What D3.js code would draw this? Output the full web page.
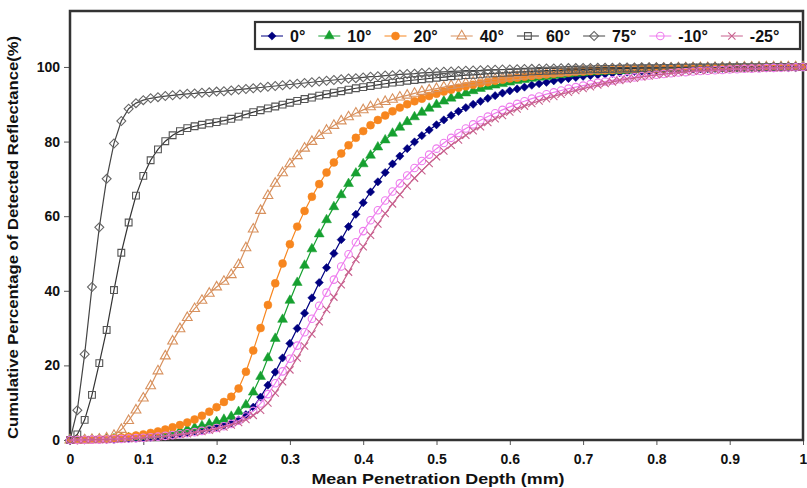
<!DOCTYPE html>
<html>
<head>
<meta charset="utf-8">
<script src="https://cdn.jsdelivr.net/npm/d3@7/dist/d3.min.js"></script>
<style>
body { margin: 0; background: #fff; }
text { font-family: Arial, "Liberation Sans", sans-serif; font-weight: bold; fill: #111; }
</style>
</head>
<body>
<svg width="807" height="488"></svg>
<script>
var svg = d3.select('svg');

// depth grid (mm)
var depth = [0,0.01,0.02,0.03,0.04,0.05,0.06,0.07,0.08,0.09,
  0.1,0.11,0.12,0.13,0.14,0.15,0.16,0.17,0.18,0.19,
  0.2,0.21,0.22,0.23,0.24,0.25,0.26,0.27,0.28,0.29,
  0.3,0.31,0.32,0.33,0.34,0.35,0.36,0.37,0.38,0.39,
  0.4,0.41,0.42,0.43,0.44,0.45,0.46,0.47,0.48,0.49,
  0.5,0.51,0.52,0.53,0.54,0.55,0.56,0.57,0.58,0.59,
  0.6,0.61,0.62,0.63,0.64,0.65,0.66,0.67,0.68,0.69,
  0.7,0.71,0.72,0.73,0.74,0.75,0.76,0.77,0.78,0.79,
  0.8,0.81,0.82,0.83,0.84,0.85,0.86,0.87,0.88,0.89,
  0.9,0.91,0.92,0.93,0.94,0.95,0.96,0.97,0.98,0.99,1];

var names = ['0°', '10°', '20°', '40°', '60°', '75°', '-10°', '-25°'];
var colors = ['#000080', '#16a030', '#f7861f', '#d8915e', '#555555', '#666666', '#ee7cee', '#c8608e'];
var lineColors = ['#000080', '#16a030', '#f7861f', '#d8915e', '#333333', '#444444', '#ee7cee', '#c8608e'];
var shapes = ['diamond', 'triangle', 'circle', 'triangleOpen', 'square', 'diamondOpen', 'circleOpen', 'cross'];

var s0 = [0,0,0.05,0.1,0.1,0.15,0.2,0.3,0.4,0.5,
  0.65,0.8,1.0,1.2,1.45,1.7,2.0,2.35,2.7,3.1,
  3.5,4.0,4.6,5.4,6.8,8.8,11.5,14.7,18.2,22.0,
  25.9,29.9,34.0,38.1,42.2,46.2,50.0,53.7,57.2,60.5,
  63.6,66.5,69.2,71.7,74.0,76.1,78.1,79.9,81.6,83.1,
  84.5,85.8,87.0,88.1,89.1,90.0,90.8,91.6,92.3,93.0,
  93.6,94.1,94.6,95.1,95.5,95.9,96.3,96.6,96.9,97.2,
  97.5,97.7,97.9,98.1,98.3,98.5,98.6,98.8,98.9,99.0,
  99.1,99.2,99.3,99.35,99.4,99.45,99.5,99.55,99.6,99.65,
  99.7,99.73,99.76,99.8,99.83,99.86,99.89,99.92,99.95,99.97,100];

var s10 = [0,0,0.05,0.1,0.15,0.2,0.3,0.4,0.55,0.7,
  0.9,1.1,1.35,1.65,2.0,2.4,2.85,3.3,3.8,4.3,
  4.9,5.5,6.3,7.6,9.4,12.8,17.0,22.0,27.2,32.3,
  37.4,42.2,46.8,51.2,55.2,59.0,62.5,65.7,68.7,71.5,
  74.0,76.3,78.5,80.4,82.2,83.8,85.3,86.6,87.8,88.9,
  89.9,90.8,91.6,92.3,93.0,93.6,94.2,94.7,95.1,95.5,
  95.9,96.3,96.6,96.9,97.2,97.4,97.7,97.9,98.1,98.3,
  98.4,98.6,98.7,98.8,98.9,99.0,99.1,99.2,99.25,99.3,
  99.4,99.45,99.5,99.55,99.6,99.65,99.7,99.72,99.75,99.78,
  99.8,99.83,99.85,99.88,99.9,99.92,99.94,99.95,99.97,99.98,100];

var s20 = [0,0,0.1,0.1,0.2,0.3,0.5,0.7,0.9,1.2,
  1.5,1.9,2.3,2.8,3.4,4.0,4.7,5.5,6.5,7.6,
  8.8,10.2,11.6,13.8,18.3,24.0,30.0,36.2,42.0,47.3,
  52.5,57.2,61.4,65.2,68.6,71.7,74.4,76.8,79.0,81.0,
  82.8,84.4,85.8,87.0,88.1,89.1,90.0,90.8,91.5,92.2,
  92.8,93.4,93.9,94.4,94.8,95.2,95.6,95.9,96.3,96.6,
  96.9,97.1,97.4,97.6,97.8,98.0,98.2,98.4,98.5,98.7,
  98.8,98.9,99.0,99.1,99.2,99.3,99.35,99.4,99.45,99.5,
  99.55,99.6,99.65,99.7,99.72,99.75,99.78,99.8,99.83,99.85,
  99.87,99.89,99.9,99.92,99.94,99.95,99.96,99.97,99.98,99.99,100];

var s40 = [0,0,0,0.1,0.2,0.5,1.2,2.8,5.2,8.0,
  11.2,14.5,18.5,22.5,26.5,29.8,32.8,35.2,37.4,39.3,
  41.0,42.5,44.3,47.0,51.5,56.5,61.5,65.5,68.8,71.6,
  74.0,76.2,78.2,80.0,81.6,83.0,84.3,85.5,86.6,87.6,
  88.5,89.3,90.0,90.7,91.3,91.9,92.4,92.9,93.4,93.8,
  94.2,94.6,95.0,95.3,95.6,95.9,96.2,96.5,96.7,97.0,
  97.2,97.4,97.6,97.8,98.0,98.15,98.3,98.45,98.6,98.75,
  98.9,99.0,99.1,99.2,99.25,99.3,99.35,99.4,99.45,99.5,
  99.55,99.6,99.65,99.7,99.72,99.75,99.78,99.8,99.83,99.85,
  99.87,99.89,99.9,99.92,99.94,99.95,99.96,99.97,99.98,99.99,100];

var s60 = [0,1.5,5.4,12.1,20.6,29.5,40.2,50.2,58.3,65.5,
  70.8,75.0,77.9,80.1,81.7,82.8,83.6,84.1,84.5,84.9,
  85.2,85.6,86.1,86.7,87.3,87.9,88.4,88.9,89.4,89.9,
  90.4,90.9,91.4,91.8,92.3,92.7,93.1,93.5,93.9,94.3,
  94.6,94.9,95.2,95.5,95.8,96.0,96.3,96.5,96.7,96.9,
  97.1,97.3,97.5,97.6,97.8,97.9,98.0,98.2,98.3,98.4,
  98.5,98.6,98.7,98.8,98.9,99.0,99.05,99.1,99.2,99.25,
  99.3,99.35,99.4,99.45,99.5,99.55,99.6,99.6,99.65,99.7,
  99.7,99.75,99.75,99.8,99.8,99.85,99.85,99.88,99.9,99.9,
  99.92,99.93,99.94,99.95,99.96,99.97,99.98,99.98,99.99,100,100];

var s75 = [0,8,23,41,57,70,79.5,85.5,88.8,90.3,
  91.1,91.6,91.9,92.2,92.4,92.6,92.8,92.9,93.1,93.2,
  93.4,93.5,93.7,93.9,94.1,94.3,94.5,94.7,94.9,95.1,
  95.3,95.5,95.7,95.9,96.1,96.3,96.5,96.7,96.9,97.0,
  97.2,97.4,97.5,97.7,97.8,98.0,98.1,98.2,98.4,98.5,
  98.6,98.7,98.8,98.9,99.0,99.05,99.1,99.2,99.25,99.3,
  99.35,99.4,99.45,99.5,99.55,99.6,99.6,99.65,99.7,99.7,
  99.75,99.75,99.8,99.8,99.8,99.85,99.85,99.85,99.9,99.9,
  99.9,99.9,99.9,99.92,99.93,99.94,99.95,99.95,99.96,99.96,
  99.97,99.97,99.98,99.98,99.98,99.99,99.99,99.99,100,100,100];

var sm10 = [0,0,0.05,0.1,0.1,0.15,0.2,0.3,0.4,0.5,
  0.6,0.75,0.9,1.1,1.3,1.55,1.8,2.1,2.45,2.8,
  3.2,3.7,4.3,5.2,6.3,7.8,9.8,12.3,15.2,18.4,
  21.8,25.3,28.9,32.5,36.0,39.5,43.0,46.5,49.8,53.0,
  56.0,58.9,61.6,64.2,66.6,68.8,70.9,72.9,74.8,76.5,
  78.1,79.6,81.0,82.3,83.5,84.6,85.7,86.7,87.6,88.5,
  89.3,90.1,90.8,91.5,92.1,92.7,93.2,93.7,94.2,94.6,
  95.0,95.4,95.8,96.1,96.4,96.7,97.0,97.2,97.5,97.7,
  97.9,98.1,98.3,98.5,98.6,98.8,98.9,99.0,99.1,99.2,
  99.3,99.4,99.5,99.55,99.6,99.7,99.75,99.8,99.85,99.9,100];

var sm25 = [0,0,0.05,0.1,0.1,0.15,0.2,0.3,0.35,0.45,
  0.55,0.7,0.85,1.0,1.2,1.45,1.7,2.0,2.3,2.65,
  3.0,3.5,4.0,4.7,5.5,6.6,8.0,9.9,12.6,15.6,
  18.8,22.0,25.2,28.4,31.7,35.0,38.3,41.6,45.0,48.4,
  51.8,54.9,57.9,60.7,63.3,65.8,68.1,70.2,72.2,74.1,
  75.9,77.5,79.0,80.4,81.7,82.9,84.0,85.1,86.1,87.0,
  87.9,88.7,89.5,90.2,90.9,91.5,92.1,92.7,93.2,93.7,
  94.2,94.7,95.2,95.6,96.0,96.4,96.7,97.0,97.3,97.6,
  97.9,98.1,98.3,98.5,98.7,98.85,99.0,99.1,99.2,99.3,
  99.4,99.5,99.55,99.6,99.65,99.7,99.75,99.8,99.85,99.9,100];

var seriesValues = [s0, s10, s20, s40, s60, s75, sm10, sm25];

var yTicks = [0, 20, 40, 60, 80, 100];
var xTicks = [0, 0.1, 0.2, 0.3, 0.4, 0.5, 0.6, 0.7, 0.8, 0.9, 1];

var plot = {l: 70, r: 803, t: 11, b: 440};

var xScale = d3.scaleLinear().domain([0, 1]).range([plot.l, plot.r]);
var yScale = d3.scaleLinear().domain([0, 115]).range([plot.b, plot.t]);

// axes
var yAxis = svg.append('g')
  .attr('transform', 'translate(' + plot.l + ',0)')
  .call(d3.axisLeft(yScale).tickValues(yTicks).tickSize(6).tickPadding(4));
yAxis.select('.domain').remove();
yAxis.selectAll('line').attr('stroke', '#555');
yAxis.selectAll('text').style('font-size', '14px').style('font-family', 'Arial, "Liberation Sans", sans-serif').style('font-weight', 'bold').attr('fill', '#111');

var xAxis = svg.append('g')
  .attr('transform', 'translate(0,' + plot.b + ')')
  .call(d3.axisBottom(xScale).tickValues(xTicks).tickSize(5).tickPadding(9)
    .tickFormat(function(d) { return d === 0 ? '0' : d === 1 ? '1' : d.toFixed(1); }));
xAxis.select('.domain').remove();
xAxis.selectAll('line').attr('stroke', '#555');
xAxis.selectAll('text').style('font-size', '14px').style('font-family', 'Arial, "Liberation Sans", sans-serif').style('font-weight', 'bold').attr('fill', '#111');

// plot frame
svg.append('rect')
  .attr('x', plot.l).attr('y', plot.t)
  .attr('width', plot.r - plot.l).attr('height', plot.b - plot.t)
  .attr('fill', 'none').attr('stroke', '#333').attr('stroke-width', 2.5);

function markerPath(shape) {
  if (shape === 'square') return d3.symbol().type(d3.symbolSquare).size(46)();
  if (shape === 'diamond') return d3.symbol().type(d3.symbolSquare).size(34)();
  if (shape === 'diamondOpen') return d3.symbol().type(d3.symbolSquare).size(40)();
  if (shape === 'triangle' || shape === 'triangleOpen') return d3.symbol().type(d3.symbolTriangle).size(42)();
  if (shape === 'circle') return d3.symbol().type(d3.symbolCircle).size(50)();
  if (shape === 'circleOpen') return d3.symbol().type(d3.symbolCircle).size(44)();
  return d3.symbol().type(d3.symbolX).size(36)();
}

function drawMarker(g, shape, color, x, y) {
  var open = shape.indexOf('Open') >= 0 || shape === 'square' || shape === 'cross';
  return g.append('path')
    .attr('d', markerPath(shape))
    .attr('transform', 'translate(' + x + ',' + y + ')' + (shape.indexOf('diamond') === 0 ? ' rotate(45)' : ''))
    .attr('fill', open ? 'none' : color)
    .attr('stroke', color)
    .attr('stroke-width', open ? 1.1 : 0.5);
}

var line = d3.line()
  .x(function(d) { return xScale(d[0]); })
  .y(function(d) { return yScale(d[1]); });

var chartG = svg.append('g');

seriesValues.forEach(function(vals, i) {
  var pts = depth.map(function(x, j) { return [x, vals[j]]; });
  var g = chartG.append('g');
  g.append('path')
    .attr('d', line(pts))
    .attr('fill', 'none')
    .attr('stroke', lineColors[i])
    .attr('stroke-width', 1.2);
  pts.forEach(function(p) {
    drawMarker(g, shapes[i], colors[i], xScale(p[0]), yScale(p[1]));
  });
});

// legend
var legG = svg.append('g');
legG.append('rect')
  .attr('x', 255).attr('y', 22).attr('width', 545).attr('height', 27)
  .attr('fill', '#fff').attr('stroke', '#333').attr('stroke-width', 2.2);

var lx = 261;
var ly = 36;
names.forEach(function(n, i) {
  legG.append('line')
    .attr('x1', lx).attr('x2', lx + 22)
    .attr('y1', ly).attr('y2', ly)
    .attr('stroke', lineColors[i]).attr('stroke-width', 1);
  drawMarker(legG, shapes[i], colors[i], lx + 11, ly);
  var t = legG.append('text')
    .attr('x', lx + 29).attr('y', ly + 6)
    .style('font-size', '16px')
    .text(n);
  lx += 29 + t.node().getComputedTextLength() + 13;
});

// axis titles
svg.append('text')
  .attr('transform', 'translate(18,' + ((plot.b + 35) / 2) + ') rotate(-90)')
  .attr('text-anchor', 'middle')
  .attr('textLength', 403).attr('lengthAdjust', 'spacingAndGlyphs')
  .style('font-size', '14px')
  .text('Cumulative Percentage of Detected Reflectance(%)');

svg.append('text')
  .attr('x', 438).attr('y', 484)
  .attr('text-anchor', 'middle')
  .attr('textLength', 253).attr('lengthAdjust', 'spacingAndGlyphs')
  .style('font-size', '14px')
  .text('Mean Penetration Depth (mm)');
</script>
</body>
</html>
